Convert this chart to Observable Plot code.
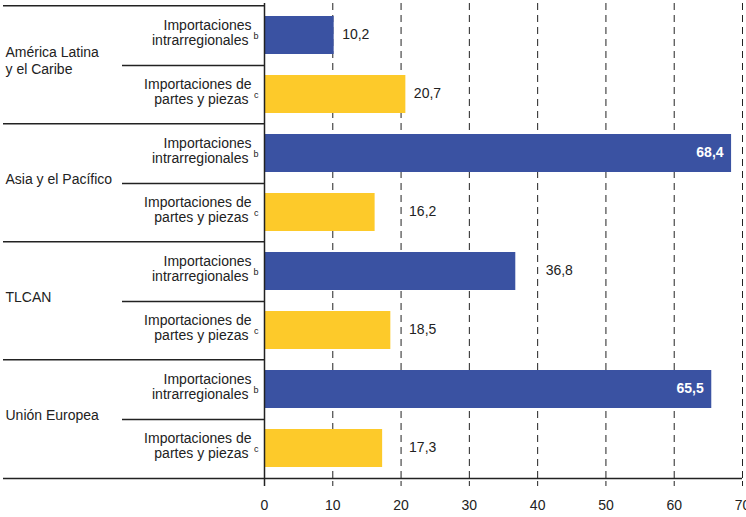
<!DOCTYPE html>
<html>
<head>
<meta charset="utf-8">
<script src="https://cdn.jsdelivr.net/npm/d3@7"></script>
<script src="https://cdn.jsdelivr.net/npm/@observablehq/plot@0.6"></script>
<style>
  html, body { margin: 0; padding: 0; background: #fff; }
  #chart { width: 746px; height: 517px; overflow: hidden; }
</style>
</head>
<body>
<div id="chart"></div>
<script>
// ---- Data ----
const regions = ["América Latina\ny el Caribe", "Asia y el Pacífico", "TLCAN", "Unión Europea"];
const seriesNames = ["Importaciones intrarregionales", "Importaciones de partes y piezas"];
const seriesLine1 = ["Importaciones", "Importaciones de"];
const seriesLine2 = ["intrarregionales", "partes y piezas"];
const seriesNote = ["b", "c"];
const intrarregionales = [10.2, 68.4, 36.8, 65.5];
const partesYPiezas = [20.7, 16.2, 18.5, 17.3];
const xTicks = [0, 10, 20, 30, 40, 50, 60, 70];
const seriesColors = ["#3A52A2", "#FDCA2A"];

// ---- Table ----
const seriesValues = [intrarregionales, partesYPiezas];
const rows = regions.flatMap((r, i) => seriesNames.map((s, j) => ({
  key: i + "-" + j, region: r, ri: i, series: s, sj: j,
  line1: seriesLine1[j], line2: seriesLine2[j], note: seriesNote[j],
  value: seriesValues[j][i]
})));
const fmt = v => v.toFixed(1).replace(".", ",");
// labels are pushed past a nearby gridline so they do not collide with it
const labelAnchor = v => { const g = Math.ceil(v / 10) * 10; return (g - v) < 5 ? g : v; };

const W = 746, H = 517, mT = 3, mB = 36, mL = 264, mR = 4;
const half = (H - mT - mB) / rows.length / 2;
const firsts = rows.filter(d => d.sj === 0);
const last = [rows[rows.length - 1]];
const ink = "#222";
const fs = 14;

const chart = Plot.plot({
  width: W, height: H,
  marginTop: mT, marginBottom: mB, marginLeft: mL, marginRight: mR,
  style: { fontFamily: "'Liberation Sans', Arial, Helvetica, sans-serif", fontSize: fs + "px", color: ink, background: "#fff", overflow: "visible" },
  x: { domain: [0, 70], ticks: xTicks, tickSize: 5, tickPadding: 14, tickFormat: d => String(d), label: null },
  y: { domain: rows.map(d => d.key), axis: null, paddingInner: 0.35, paddingOuter: 0.175 },
  color: { domain: seriesNames, range: seriesColors },
  marks: [
    // dashed gridlines
    Plot.ruleX(xTicks.filter(t => t > 0), { stroke: ink, strokeWidth: 1, strokeDasharray: "7,5" }),
    // bars
    Plot.barX(rows, { x: "value", y: "key", fill: "series" }),
    // vertical axis line
    Plot.ruleX([0], { stroke: ink, strokeWidth: 1.5, insetBottom: -5 }),
    // group separators (top of each region)
    Plot.ruleY(firsts, { y: "key", x1: () => 0, x2: () => 0, dy: -half, insetLeft: -261, stroke: ink, strokeWidth: 1.5 }),
    // separators between the two series within a region
    Plot.ruleY(firsts, { y: "key", x1: () => 0, x2: () => 0, dy: half, insetLeft: -142, stroke: ink, strokeWidth: 1.5 }),
    // bottom axis line
    Plot.ruleY(last, { y: "key", x1: () => 0, x2: () => 70, dy: half, insetLeft: -261, stroke: ink, strokeWidth: 1.5 }),
    // region labels
    Plot.text(firsts, { y: "key", text: "region", frameAnchor: "left", textAnchor: "start", dx: -259, dy: half - 5, fontSize: fs, fill: ink, lineHeight: 1.15 }),
    // series labels
    Plot.text(rows, { y: "key", text: "line1", frameAnchor: "left", textAnchor: "end", dx: -13, dy: -10, fontSize: fs, fill: ink }),
    Plot.text(rows, { y: "key", text: "line2", frameAnchor: "left", textAnchor: "end", dx: -16, dy: 5, fontSize: fs, fill: ink }),
    Plot.text(rows, { y: "key", text: "note", frameAnchor: "left", textAnchor: "end", dx: -6, dy: 1, fontSize: 9, fill: ink }),
    // value labels outside
    Plot.text(rows.filter(d => d.value <= 60), { x: d => labelAnchor(d.value), y: "key", text: d => fmt(d.value), textAnchor: "start", dx: 8, dy: -1, fontSize: fs, fill: ink }),
    // value labels inside
    Plot.text(rows.filter(d => d.value > 60), { x: "value", y: "key", text: d => fmt(d.value), textAnchor: "end", dx: -8, dy: -1, fontSize: fs, fontWeight: "bold", fill: "#fff" })
  ]
});
document.getElementById("chart").appendChild(chart);
</script>
</body>
</html>
